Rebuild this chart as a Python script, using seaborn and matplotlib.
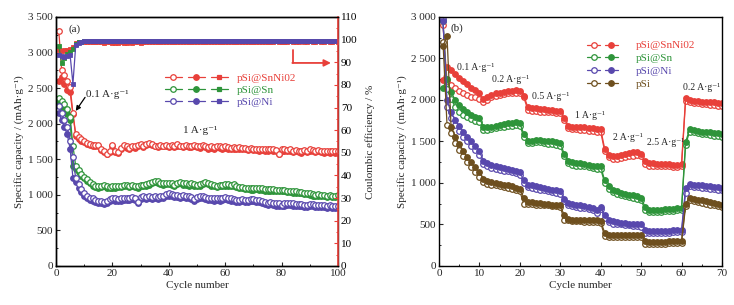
import matplotlib
matplotlib.use("Agg")
import matplotlib.pyplot as plt
import pandas as pd
import seaborn as sns
from matplotlib.lines import Line2D
from matplotlib.legend_handler import HandlerTuple
from matplotlib.ticker import MultipleLocator, FuncFormatter

# ---------------- panel (a): cycling at 1 A/g ----------------
cycles_a = list(range(1, 101))

red_dis_a = [3300, 2750, 2680, 2600, 2520, 2150, 1850, 1820, 1780, 1760,
             1730, 1720, 1700, 1700, 1700, 1650, 1620, 1580, 1620, 1700,
             1620, 1600, 1660, 1700, 1680, 1660, 1690, 1680, 1700, 1710,
             1690, 1720, 1730, 1710, 1690, 1680, 1700, 1690, 1700, 1690,
             1700, 1690, 1710, 1690, 1680, 1700, 1690, 1680, 1700, 1690,
             1680, 1700, 1690, 1670, 1680, 1670, 1690, 1680, 1670, 1680,
             1670, 1660, 1670, 1660, 1670, 1660, 1660, 1650, 1660, 1650,
             1650, 1640, 1650, 1640, 1640, 1650, 1640, 1630, 1580, 1640,
             1640, 1630, 1640, 1620, 1630, 1620, 1610, 1630, 1620, 1640,
             1630, 1620, 1630, 1620, 1610, 1620, 1610, 1620, 1610, 1610]
red_chg_a = [2600, 2650, 2560, 2480, 2440, 2130, 1830, 1790, 1760, 1740,
             1710, 1700, 1690, 1680, 1690, 1630, 1600, 1570, 1600, 1680,
             1600, 1590, 1640, 1690, 1660, 1650, 1670, 1660, 1680, 1700,
             1670, 1700, 1710, 1700, 1680, 1670, 1680, 1680, 1690, 1670,
             1680, 1670, 1690, 1680, 1670, 1680, 1670, 1670, 1680, 1670,
             1660, 1680, 1670, 1650, 1660, 1650, 1670, 1660, 1650, 1660,
             1650, 1640, 1650, 1640, 1650, 1640, 1640, 1630, 1640, 1630,
             1630, 1620, 1630, 1620, 1620, 1630, 1620, 1610, 1570, 1620,
             1620, 1610, 1620, 1600, 1610, 1600, 1590, 1610, 1600, 1620,
             1610, 1600, 1610, 1600, 1590, 1600, 1590, 1600, 1590, 1590]
green_dis_a = [2360, 2320, 2280, 2200, 2100, 1690, 1400, 1350, 1300, 1250,
               1220, 1180, 1150, 1130, 1120, 1130, 1140, 1120, 1110, 1120,
               1120, 1130, 1130, 1140, 1140, 1130, 1140, 1130, 1120, 1140,
               1140, 1150, 1160, 1180, 1200, 1190, 1170, 1160, 1170, 1170,
               1160, 1140, 1170, 1180, 1160, 1160, 1150, 1160, 1150, 1140,
               1150, 1170, 1180, 1170, 1150, 1140, 1130, 1140, 1140, 1150,
               1150, 1140, 1150, 1130, 1110, 1110, 1100, 1100, 1090, 1090,
               1100, 1090, 1090, 1080, 1080, 1080, 1080, 1070, 1070, 1070,
               1070, 1060, 1060, 1050, 1050, 1040, 1040, 1030, 1030, 1020,
               1010, 1000, 1010, 1000, 1000, 990, 1000, 990, 990, 1000]
green_chg_a = [2300, 2250, 2200, 2130, 2050, 1400, 1370, 1320, 1270, 1230,
               1200, 1160, 1130, 1110, 1100, 1110, 1120, 1100, 1090, 1100,
               1100, 1110, 1110, 1120, 1120, 1110, 1120, 1110, 1100, 1120,
               1120, 1130, 1140, 1160, 1180, 1170, 1150, 1140, 1150, 1150,
               1140, 1120, 1150, 1160, 1140, 1140, 1130, 1140, 1130, 1120,
               1130, 1150, 1160, 1150, 1130, 1120, 1110, 1120, 1120, 1130,
               1130, 1120, 1130, 1110, 1090, 1090, 1080, 1080, 1070, 1070,
               1080, 1070, 1070, 1060, 1060, 1060, 1060, 1050, 1050, 1050,
               1050, 1040, 1040, 1030, 1030, 1020, 1020, 1010, 1010, 1000,
               990, 980, 990, 980, 980, 970, 980, 970, 970, 980]
blue_dis_a = [2250, 2150, 2050, 1950, 1750, 1530, 1230, 1150, 1080, 1030,
              980, 960, 950, 930, 920, 910, 900, 920, 940, 960,
              950, 940, 950, 960, 960, 960, 970, 960, 900, 970,
              980, 970, 980, 970, 980, 970, 980, 990, 1010, 1020,
              1010, 1000, 1000, 990, 1000, 990, 980, 970, 940, 970,
              990, 980, 970, 960, 960, 950, 960, 950, 960, 970,
              960, 950, 940, 930, 930, 940, 930, 930, 940, 940,
              930, 930, 910, 900, 890, 900, 890, 880, 880, 860,
              880, 890, 890, 880, 870, 870, 870, 860, 860, 870,
              870, 860, 860, 860, 860, 850, 860, 850, 850, 850]
blue_chg_a = [2150, 2050, 1950, 1850, 1650, 1240, 1180, 1100, 1040, 990,
              950, 930, 920, 900, 890, 880, 870, 890, 910, 930,
              920, 910, 920, 930, 930, 930, 940, 930, 880, 940,
              950, 940, 950, 940, 950, 940, 950, 960, 980, 990,
              980, 970, 970, 960, 970, 960, 950, 940, 920, 940,
              960, 950, 940, 930, 930, 920, 930, 920, 930, 940,
              930, 920, 910, 900, 900, 910, 900, 900, 910, 910,
              900, 900, 880, 870, 860, 870, 860, 850, 850, 840,
              850, 860, 860, 850, 840, 840, 840, 830, 830, 840,
              840, 830, 830, 830, 830, 820, 830, 820, 820, 820]

red_ce_a = [95.5, 95.0, 95.3, 95.6, 96.0, 96.6, 98.4, 98.8, 99.0, 99.1,
            99.0, 99.1, 98.9, 99.0, 99.1, 98.8, 98.7, 98.9, 99.0, 98.7,
            98.6, 98.7, 98.8, 98.6, 98.7, 98.8, 98.7, 98.9, 98.8, 98.7,
            98.9, 99.0, 98.9, 99.0, 99.1, 99.0, 99.0, 99.1, 99.0, 99.0,
            99.1, 99.0, 99.1, 99.0, 99.1, 99.1, 99.0, 99.1, 99.0, 99.1,
            99.1, 99.0, 99.1, 99.1, 99.0, 99.1, 99.1, 99.0, 99.1, 99.1,
            99.1, 99.0, 99.1, 99.1, 99.1, 99.0, 99.1, 99.1, 99.1, 99.0,
            99.1, 99.1, 99.1, 99.1, 99.0, 99.1, 99.1, 99.2, 99.1, 99.1,
            99.1, 99.1, 99.2, 99.1, 99.1, 99.1, 99.2, 99.1, 99.1, 99.2,
            99.1, 99.1, 99.2, 99.1, 99.1, 99.2, 99.1, 99.1, 99.2, 99.1]
green_ce_a = [97.0, 89.5, 92.0, 93.5, 94.5, 95.8, 98.2, 98.9, 99.1, 99.2,
              99.2, 99.3, 99.2, 99.3, 99.3, 99.2, 99.3, 99.3, 99.2, 99.3,
              99.3, 99.2, 99.3, 99.3, 99.2, 99.3, 99.3, 99.2, 99.3, 99.3,
              99.3, 99.4, 99.3, 99.3, 99.4, 99.3, 99.3, 99.4, 99.3, 99.3,
              99.3, 99.3, 99.4, 99.3, 99.3, 99.3, 99.4, 99.3, 99.3, 99.3,
              99.3, 99.4, 99.3, 99.3, 99.3, 99.4, 99.3, 99.3, 99.3, 99.4,
              99.3, 99.3, 99.4, 99.3, 99.3, 99.3, 99.4, 99.3, 99.3, 99.3,
              99.4, 99.3, 99.3, 99.3, 99.4, 99.3, 99.3, 99.3, 99.4, 99.3,
              99.3, 99.3, 99.4, 99.3, 99.3, 99.3, 99.4, 99.3, 99.3, 99.3,
              99.4, 99.3, 99.3, 99.3, 99.4, 99.3, 99.3, 99.3, 99.4, 99.3]
blue_ce_a = [93.0, 92.6, 92.3, 92.8, 93.2, 80.5, 97.6, 98.7, 99.1, 99.3,
             99.4, 99.5, 99.4, 99.5, 99.5, 99.4, 99.5, 99.5, 99.6, 99.5,
             99.5, 99.4, 99.5, 99.5, 99.4, 99.5, 99.5, 99.6, 99.5, 99.5,
             99.5, 99.6, 99.5, 99.5, 99.6, 99.5, 99.5, 99.6, 99.5, 99.5,
             99.5, 99.5, 99.6, 99.5, 99.5, 99.5, 99.6, 99.5, 99.5, 99.5,
             99.5, 99.6, 99.5, 99.5, 99.5, 99.6, 99.5, 99.5, 99.5, 99.6,
             99.5, 99.5, 99.6, 99.5, 99.5, 99.5, 99.6, 99.5, 99.5, 99.5,
             99.6, 99.5, 99.5, 99.5, 99.6, 99.5, 99.5, 99.5, 99.6, 99.5,
             99.5, 99.5, 99.6, 99.5, 99.5, 99.5, 99.6, 99.5, 99.5, 99.5,
             99.6, 99.5, 99.5, 99.5, 99.6, 99.5, 99.5, 99.5, 99.6, 99.5]

# ---------------- panel (b): rate capability ----------------
cycles_b = list(range(1, 71))

red_dis_b = [2900, 2230, 2180, 2140, 2110, 2080, 2060, 2040, 2030, 2010,
             1970, 2000, 2030, 2050, 2060, 2070, 2080, 2080, 2090, 2090,
             2030, 1880, 1870, 1870, 1860, 1860, 1850, 1850, 1840, 1840,
             1760, 1660, 1650, 1650, 1640, 1640, 1630, 1630, 1620, 1620,
             1380, 1310, 1290, 1290, 1300, 1310, 1320, 1330, 1340, 1320,
             1230, 1210, 1210, 1200, 1200, 1200, 1200, 1190, 1190, 1200,
             1990, 1970, 1960, 1960, 1950, 1950, 1940, 1940, 1930, 1930]
red_chg_b = [2240, 2400, 2360, 2310, 2270, 2230, 2190, 2150, 2120, 2090,
             2010, 2040, 2060, 2080, 2090, 2100, 2110, 2110, 2120, 2110,
             2050, 1910, 1900, 1900, 1890, 1890, 1880, 1880, 1870, 1870,
             1780, 1690, 1680, 1680, 1670, 1670, 1660, 1660, 1650, 1650,
             1410, 1340, 1320, 1330, 1340, 1350, 1360, 1370, 1370, 1350,
             1260, 1240, 1240, 1230, 1230, 1230, 1230, 1220, 1220, 1230,
             2020, 2000, 1990, 1990, 1980, 1980, 1970, 1970, 1960, 1960]
green_dis_b = [2950, 2130, 2010, 1920, 1860, 1820, 1790, 1770, 1750, 1740,
               1640, 1640, 1650, 1660, 1670, 1680, 1690, 1690, 1700, 1690,
               1560, 1480, 1480, 1490, 1490, 1480, 1470, 1470, 1460, 1450,
               1320, 1240, 1220, 1210, 1210, 1200, 1190, 1180, 1170, 1170,
               1000, 930, 890, 870, 850, 840, 830, 820, 810, 790,
               680, 650, 650, 650, 650, 660, 660, 660, 670, 670,
               1460, 1620, 1610, 1600, 1590, 1590, 1580, 1570, 1570, 1560]
green_chg_b = [2150, 2250, 2100, 2000, 1940, 1890, 1850, 1820, 1800, 1780,
               1680, 1670, 1680, 1690, 1700, 1710, 1720, 1720, 1730, 1720,
               1590, 1510, 1510, 1520, 1520, 1510, 1500, 1500, 1490, 1480,
               1350, 1270, 1250, 1240, 1240, 1230, 1220, 1210, 1200, 1200,
               1030, 960, 920, 900, 880, 870, 860, 850, 840, 820,
               710, 680, 680, 680, 680, 690, 690, 690, 700, 700,
               1490, 1650, 1640, 1630, 1620, 1620, 1610, 1600, 1600, 1590]
blue_dis_b = [2980, 1910, 1780, 1700, 1630, 1560, 1500, 1450, 1400, 1340,
              1230, 1200, 1180, 1170, 1160, 1150, 1140, 1130, 1120, 1100,
              1000, 950, 940, 930, 920, 910, 900, 890, 880, 870,
              780, 730, 720, 710, 700, 700, 690, 680, 640, 690,
              580, 530, 510, 500, 500, 490, 490, 480, 480, 470,
              400, 400, 400, 400, 400, 400, 400, 410, 410, 410,
              880, 960, 950, 950, 940, 940, 930, 930, 920, 920]
blue_chg_b = [2950, 2000, 1850, 1760, 1690, 1620, 1560, 1500, 1450, 1380,
              1270, 1240, 1220, 1200, 1190, 1180, 1170, 1160, 1150, 1130,
              1030, 980, 970, 960, 950, 940, 930, 920, 910, 900,
              810, 760, 750, 740, 730, 720, 710, 700, 670, 710,
              610, 560, 540, 530, 520, 520, 510, 510, 500, 500,
              430, 420, 420, 420, 420, 420, 420, 430, 430, 430,
              940, 990, 980, 970, 970, 960, 960, 950, 950, 940]
brown_dis_b = [2700, 1700, 1600, 1480, 1400, 1320, 1250, 1190, 1130, 1070,
               1010, 990, 980, 970, 960, 950, 940, 930, 910, 900,
               750, 750, 750, 740, 740, 730, 730, 720, 720, 710,
               560, 550, 540, 540, 540, 530, 530, 530, 530, 520,
               360, 350, 350, 350, 350, 350, 350, 350, 350, 350,
               270, 270, 270, 270, 270, 270, 280, 280, 280, 280,
               720, 790, 780, 770, 760, 750, 740, 730, 720, 710]
brown_chg_b = [2650, 2770, 1680, 1560, 1470, 1390, 1310, 1250, 1190, 1130,
               1050, 1020, 1010, 1000, 990, 980, 970, 960, 940, 930,
               820, 770, 770, 760, 760, 750, 750, 740, 740, 730,
               610, 570, 560, 560, 560, 550, 550, 550, 550, 540,
               400, 370, 370, 370, 370, 370, 370, 370, 370, 370,
               300, 290, 290, 290, 290, 290, 300, 300, 300, 300,
               750, 820, 810, 800, 790, 780, 770, 760, 750, 740]

rate_labels = ["0.1 A·g⁻¹", "0.2 A·g⁻¹", "0.5 A·g⁻¹", "1 A·g⁻¹",
               "2 A·g⁻¹", "2.5 A·g⁻¹", "0.2 A·g⁻¹"]
rate_label_pos = [(4.5, 2390), (13.1, 2250), (23.0, 2040), (33.7, 1810),
                  (43.1, 1545), (51.5, 1485), (60.4, 2150)]

RED = "#e8403a"
GREEN = "#2e943a"
BLUE = "#5848ad"
BROWN = "#6e4f1e"

sns.set_theme(style="ticks")
plt.rcParams["font.family"] = ["Liberation Serif", "DejaVu Serif"]
plt.rcParams.update({
    "xtick.direction": "in", "ytick.direction": "in",
    "xtick.major.size": 3, "ytick.major.size": 3,
    "xtick.minor.size": 1.6, "ytick.minor.size": 1.6,
    "xtick.major.width": 0.8, "ytick.major.width": 0.8,
    "xtick.minor.width": 0.7, "ytick.minor.width": 0.7,
    "axes.linewidth": 1.0, "axes.edgecolor": "black",
    "xtick.labelsize": 8, "ytick.labelsize": 8,
    "xtick.major.pad": 2.5, "ytick.major.pad": 2,
})

df_a = pd.DataFrame({"cycle": cycles_a,
                     "red_dis": red_dis_a, "red_chg": red_chg_a,
                     "green_dis": green_dis_a, "green_chg": green_chg_a,
                     "blue_dis": blue_dis_a, "blue_chg": blue_chg_a,
                     "red_ce": red_ce_a, "green_ce": green_ce_a, "blue_ce": blue_ce_a})
df_b = pd.DataFrame({"cycle": cycles_b,
                     "red_dis": red_dis_b, "red_chg": red_chg_b,
                     "green_dis": green_dis_b, "green_chg": green_chg_b,
                     "blue_dis": blue_dis_b, "blue_chg": blue_chg_b,
                     "brown_dis": brown_dis_b, "brown_chg": brown_chg_b})


def draw(ax, df, col, color, filled, marker="o", size=4.0):
    sns.lineplot(data=df, x="cycle", y=col, ax=ax, color=color, linewidth=0.9,
                 marker=marker, markersize=size,
                 markerfacecolor=color if filled else "white",
                 markeredgecolor=color, markeredgewidth=0.9, legend=False)


def handle(color, filled, marker="o", size=4.0):
    return Line2D([], [], color=color, lw=0.9, marker=marker, markersize=size,
                  markerfacecolor=color if filled else "white",
                  markeredgecolor=color, markeredgewidth=0.9)


thousands = FuncFormatter(lambda v, p: f"{v:,.0f}".replace(",", " "))

fig = plt.figure(figsize=(7.34, 3.05), dpi=100)
ax1 = fig.add_axes([0.0763, 0.1279, 0.3842, 0.8164])
ax2 = fig.add_axes([0.598, 0.1279, 0.3856, 0.8164])

# ---- panel (a)
for name, color in [("red", RED), ("green", GREEN), ("blue", BLUE)]:
    draw(ax1, df_a, name + "_chg", color, True)
    draw(ax1, df_a, name + "_dis", color, False)

ax1.set_xlim(0, 100)
ax1.set_ylim(0, 3500)
ax1.xaxis.set_major_locator(MultipleLocator(20))
ax1.xaxis.set_minor_locator(MultipleLocator(10))
ax1.yaxis.set_major_locator(MultipleLocator(500))
ax1.yaxis.set_minor_locator(MultipleLocator(250))
ax1.yaxis.set_major_formatter(thousands)
ax1.set_xlabel("Cycle number", fontsize=8, labelpad=2)
ax1.set_ylabel("Specific capacity / (mAh·g⁻¹)", fontsize=8, labelpad=3)
ax1.tick_params(top=False, right=False)

ax1r = ax1.twinx()
for name, color in [("red", RED), ("green", GREEN), ("blue", BLUE)]:
    sns.lineplot(data=df_a, x="cycle", y=name + "_ce", ax=ax1r, color=color,
                 linewidth=0.9, marker="s", markersize=3.2, markerfacecolor=color,
                 markeredgecolor=color, markeredgewidth=0.6, legend=False)
ax1r.set_ylim(0, 110)
ax1r.yaxis.set_major_locator(MultipleLocator(10))
ax1r.yaxis.set_minor_locator(MultipleLocator(5))
ax1r.spines["right"].set_color(RED)
ax1r.spines["right"].set_linewidth(1.2)
ax1r.tick_params(axis="y", which="both", colors=RED, labelcolor="black")
ax1r.set_ylabel("Coulombic efficiency / %", fontsize=8, labelpad=6)
ax1r.set_xlabel("")

ax1.text(4.3, 3330, "(a)", fontsize=8, va="center")
ax1.text(10.8, 2410, "0.1 A·g⁻¹", fontsize=8, va="center")
ax1.annotate("", xy=(7.0, 2180), xytext=(10.3, 2370),
             arrowprops=dict(arrowstyle="-|>", color="black", lw=0.9,
                             mutation_scale=7, shrinkA=0, shrinkB=0))
ax1.text(45, 1900, "1 A·g⁻¹", fontsize=8, va="center")
ax1r.plot([84, 84], [95.5, 89.7], color=RED, lw=1.3)
ax1r.annotate("", xy=(97.5, 89.7), xytext=(83.8, 89.7),
              arrowprops=dict(arrowstyle="-|>", color=RED, lw=1.3,
                              mutation_scale=10, shrinkA=0, shrinkB=0))

leg_a = ax1r.legend(
    handles=[(handle(RED, False), handle(RED, True), handle(RED, True, "s", 3.2)),
             (handle(GREEN, False), handle(GREEN, True), handle(GREEN, True, "s", 3.2)),
             (handle(BLUE, False), handle(BLUE, True), handle(BLUE, True, "s", 3.2))],
    labels=["pSi@SnNi02", "pSi@Sn", "pSi@Ni"],
    handler_map={tuple: HandlerTuple(ndivide=None, pad=0.5)},
    loc="upper left", bbox_to_anchor=(0.385, 0.775), frameon=False,
    fontsize=8, handlelength=5.7, handletextpad=0.8, labelspacing=0.22,
    borderpad=0, borderaxespad=0)
for txt, c in zip(leg_a.get_texts(), [RED, GREEN, BLUE]):
    txt.set_color(c)

# ---- panel (b)
for name, color in [("red", RED), ("green", GREEN), ("blue", BLUE), ("brown", BROWN)]:
    draw(ax2, df_b, name + "_dis", color, False)
    draw(ax2, df_b, name + "_chg", color, True)

ax2.set_xlim(0, 70)
ax2.set_ylim(0, 3000)
ax2.xaxis.set_major_locator(MultipleLocator(10))
ax2.xaxis.set_minor_locator(MultipleLocator(5))
ax2.yaxis.set_major_locator(MultipleLocator(500))
ax2.yaxis.set_minor_locator(MultipleLocator(250))
ax2.yaxis.set_major_formatter(thousands)
ax2.set_xlabel("Cycle number", fontsize=8, labelpad=2)
ax2.set_ylabel("Specific capacity / (mAh·g⁻¹)", fontsize=8, labelpad=3)
ax2.tick_params(top=False, right=False)

ax2.text(2.8, 2870, "(b)", fontsize=8, va="center")
for lab, (xx, yy) in zip(rate_labels, rate_label_pos):
    ax2.text(xx, yy, lab, fontsize=7, va="center")

leg_b = ax2.legend(
    handles=[(handle(RED, False), handle(RED, True)),
             (handle(GREEN, False), handle(GREEN, True)),
             (handle(BLUE, False), handle(BLUE, True)),
             (handle(BROWN, False), handle(BROWN, True))],
    labels=["pSi@SnNi02", "pSi@Sn", "pSi@Ni", "pSi"],
    handler_map={tuple: HandlerTuple(ndivide=None, pad=0.4)},
    loc="upper left", bbox_to_anchor=(0.523, 0.905), frameon=False,
    fontsize=8, handlelength=2.8, handletextpad=1.6, labelspacing=0.28,
    borderpad=0, borderaxespad=0)
for txt, c in zip(leg_b.get_texts(), [RED, GREEN, BLUE, BROWN]):
    txt.set_color(c)

fig.savefig("out.png", dpi=100)
